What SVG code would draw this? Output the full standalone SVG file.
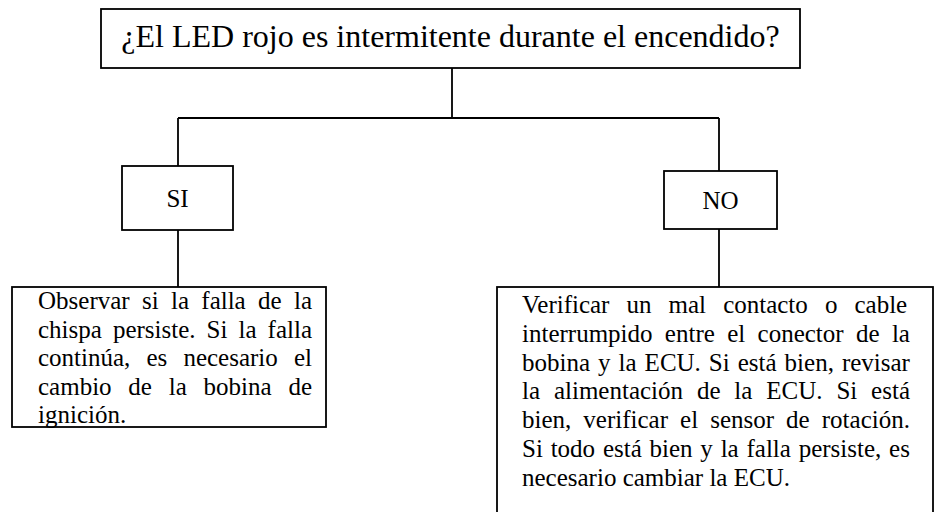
<svg xmlns="http://www.w3.org/2000/svg" width="935" height="512" viewBox="0 0 935 512">
<style>
.box{fill:#fff;stroke:#000;stroke-width:1.8}
.c{fill:none;stroke:#000;stroke-width:1.8}
text{font-family:"Liberation Serif","Times New Roman",serif;fill:#000}
.t{font-size:25px}
.h{font-size:32px}
.m{text-anchor:middle}
</style>
<rect width="935" height="512" fill="#fff"/>
<g id="connectors">
<path class="c" d="M452,68V118M178,118H719M178,118V166M719,118V171M178,230V287M719,229V287"/>
</g>
<g id="question">
<rect class="box" x="101" y="9" width="699" height="59"/>
<text class="h m" x="450.5" y="47">¿El LED rojo es intermitente durante el encendido?</text>
</g>
<g id="si">
<rect class="box" x="122" y="166" width="111" height="64"/>
<text class="t m" x="177.5" y="207">SI</text>
</g>
<g id="no">
<rect class="box" x="664" y="171" width="113" height="58"/>
<text class="t m" x="720.5" y="209">NO</text>
</g>
<g id="si-action">
<rect class="box" x="12" y="287" width="314" height="140"/>
<text class="t">
<tspan x="38" y="309" style="word-spacing:6.07px">Observar si la falla de la</tspan>
<tspan x="38" y="337.6" style="word-spacing:4.8px">chispa persiste. Si la falla</tspan>
<tspan x="38" y="366.2" style="word-spacing:9.88px">continúa, es necesario el</tspan>
<tspan x="38" y="394.8" style="word-spacing:10.53px">cambio de la bobina de</tspan>
<tspan x="38" y="423.4">ignición.</tspan>
</text>
</g>
<g id="no-action">
<rect class="box" x="497" y="287" width="436" height="240"/>
<text class="t">
<tspan x="522" y="313" style="word-spacing:10.82px">Verificar un mal contacto o cable</tspan>
<tspan x="522" y="341.8" style="word-spacing:6.09px">interrumpido entre el conector de la</tspan>
<tspan x="522" y="370.6" style="word-spacing:1.76px">bobina y la ECU. Si está bien, revisar</tspan>
<tspan x="522" y="399.4" style="word-spacing:7.62px">la alimentación de la ECU. Si está</tspan>
<tspan x="522" y="428.2" style="word-spacing:5.81px">bien, verificar el sensor de rotación.</tspan>
<tspan x="522" y="457" style="word-spacing:1.54px">Si todo está bien y la falla persiste, es</tspan>
<tspan x="522" y="485.8">necesario cambiar la ECU.</tspan>
</text>
</g>
</svg>
